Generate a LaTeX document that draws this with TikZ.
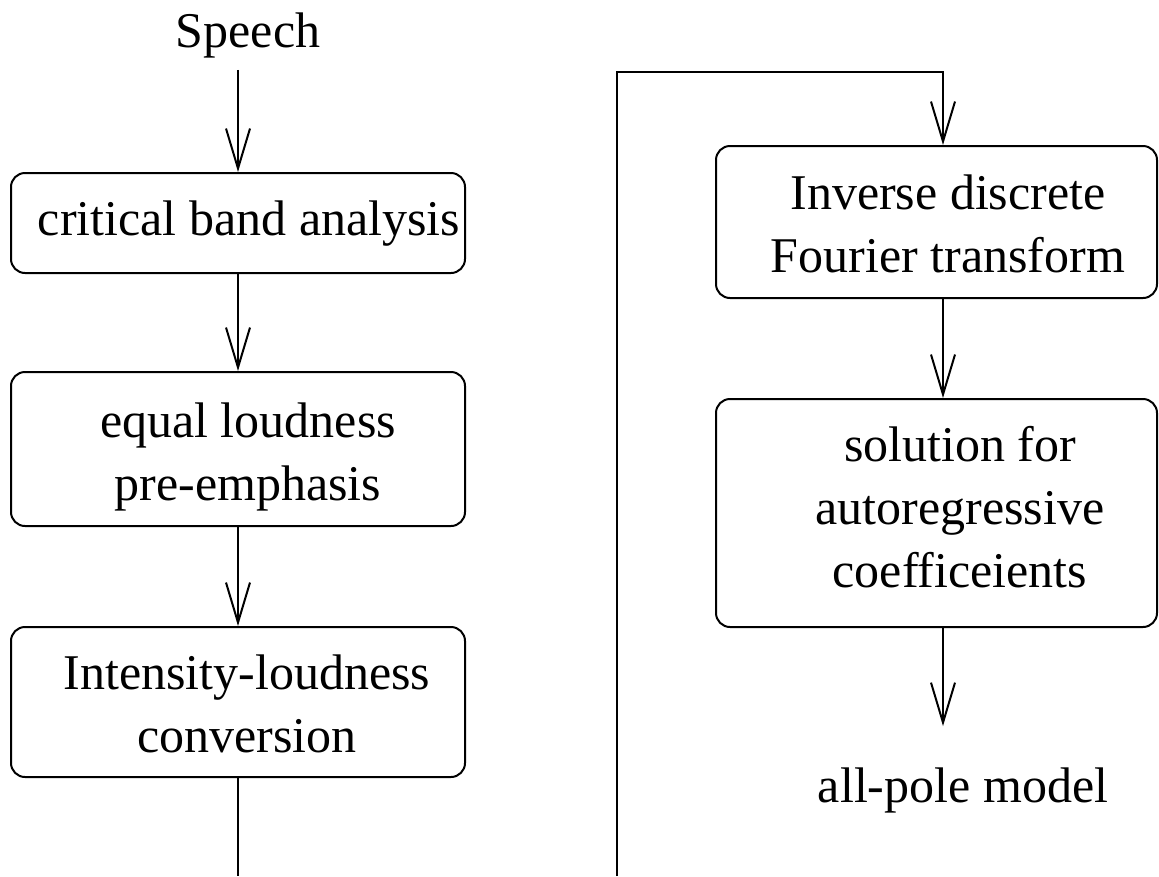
\documentclass[tikz,border=0pt]{standalone}
\usepackage{fontspec}
\setmainfont{Liberation Serif}
\usetikzlibrary{arrows.meta}
\begin{document}
\begin{tikzpicture}[x=1pt,y=-1pt,
  box/.style={draw, line width=2pt, rounded corners=14pt, inner sep=0pt},
  lbl/.style={font=\fontsize{50}{63}\selectfont, align=center, inner sep=0pt, anchor=base},
  arr/.style={line width=2pt, -{Straight Barb[length=40pt,width=24pt,line width=2pt]}},
  ln/.style={line width=2pt}]
\useasboundingbox (0,0) rectangle (1159,876);
% boxes
\node[box, minimum width=454pt, minimum height=100pt] (b1) at (238,223) {};
\node[box, minimum width=454pt, minimum height=154pt] (b2) at (238,449) {};
\node[box, minimum width=454pt, minimum height=150pt] (b3) at (238,702) {};
\node[box, minimum width=441pt, minimum height=152pt] (b4) at (936.5,222) {};
\node[box, minimum width=441pt, minimum height=228pt] (b5) at (936.5,513) {};
% labels (multi-line labels anchored at the baseline of their last line)
\node[lbl] (speech) at (248,47) {Speech};
\node[lbl] (t1) at (249,235) {critical band analysis};
\node[lbl] (t2) at (248,500) {equal loudness\\pre-emphasis};
\node[lbl] (t3) at (247,752) {Intensity-loudness\\conversion};
\node[lbl] (t4) at (948,272) {Inverse discrete\\Fourier transform};
\node[lbl] (t5) at (960,587) {solution for\\autoregressive\\coefficeients};
\node[lbl] (allpole) at (963,802) {all-pole model};
% connectors
\coordinate (lend) at (238,876);
\coordinate (rstart) at (617,876);
\coordinate (ax) at (943,72);
\draw[arr, shorten <=12pt] (speech.south -| b1.north) -- (b1.north);
\draw[arr] (b1.south) -- (b2.north);
\draw[arr] (b2.south) -- (b3.north);
\draw[ln] (b3.south) -- (lend);
\draw[arr] (rstart) |- (ax) -- (b4.north -| ax);
\draw[arr] (b4.south -| ax) -- (b5.north -| ax);
\draw[arr, shorten >=41pt] (b5.south -| ax) -- (allpole.north -| ax);
\end{tikzpicture}
\end{document}
